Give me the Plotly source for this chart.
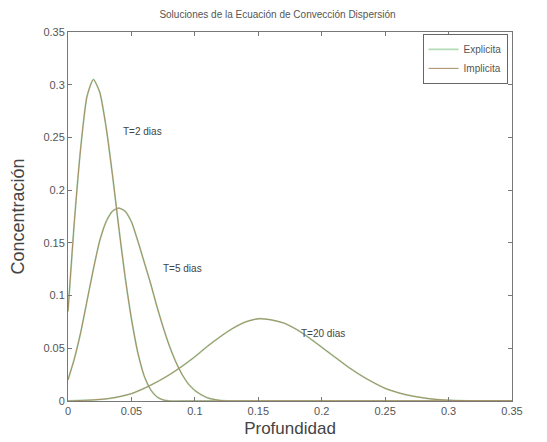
import plotly.graph_objects as go

# ---- data ----
x_t2 = [0.0, 0.005, 0.01, 0.015, 0.02, 0.025, 0.03, 0.035, 0.04, 0.045, 0.05, 0.055,
        0.06, 0.065, 0.07, 0.075, 0.08, 0.09, 0.10, 0.15, 0.20, 0.25, 0.30, 0.35]
c_t2 = [0.085, 0.17, 0.24, 0.289, 0.305, 0.293, 0.26, 0.215, 0.165, 0.118, 0.078, 0.046,
        0.024, 0.011, 0.004, 0.001, 0.0, 0.0, 0.0, 0.0, 0.0, 0.0, 0.0, 0.0]

x_t5 = [0.0, 0.005, 0.01, 0.015, 0.02, 0.025, 0.03, 0.035, 0.04, 0.045, 0.05, 0.055,
        0.06, 0.065, 0.07, 0.075, 0.08, 0.085, 0.09, 0.095, 0.10, 0.105, 0.11, 0.115,
        0.12, 0.125, 0.15, 0.20, 0.25, 0.30, 0.35]
c_t5 = [0.02, 0.04, 0.065, 0.095, 0.125, 0.152, 0.17, 0.18, 0.183, 0.18, 0.17, 0.152,
        0.132, 0.112, 0.09, 0.07, 0.052, 0.037, 0.025, 0.016, 0.010, 0.006, 0.003, 0.0015,
        0.0005, 0.0, 0.0, 0.0, 0.0, 0.0, 0.0]

x_t20 = [0.0, 0.01, 0.02, 0.03, 0.04, 0.05, 0.06, 0.07, 0.08, 0.09, 0.10, 0.11, 0.12,
         0.13, 0.14, 0.15, 0.16, 0.17, 0.18, 0.19, 0.20, 0.21, 0.22, 0.23, 0.24, 0.25,
         0.26, 0.27, 0.28, 0.29, 0.30, 0.31, 0.32, 0.33, 0.34, 0.35]
c_t20 = [0.0, 0.0005, 0.001, 0.002, 0.004, 0.007, 0.012, 0.018, 0.025, 0.033, 0.042,
         0.052, 0.061, 0.069, 0.075, 0.078, 0.077, 0.074, 0.068, 0.060, 0.051, 0.042,
         0.033, 0.025, 0.018, 0.012, 0.008, 0.005, 0.003, 0.0015, 0.0007, 0.0003, 0.0,
         0.0, 0.0, 0.0]

series_names = ["Explicita", "Implicita"]
series_colors = ["#b3dcb8", "#a58a60"]
series_widths = [1.8, 1.0]

curve_labels = ["T=2 dias", "T=5 dias", "T=20 dias"]
label_x = [0.042, 0.073, 0.182]
label_y = [0.256, 0.126, 0.064]

ticks = [0, 0.05, 0.1, 0.15, 0.2, 0.25, 0.3, 0.35]
tick_text = ["0", "0.05", "0.1", "0.15", "0.2", "0.25", "0.3", "0.35"]

fig = go.Figure()
curves = [(x_t2, c_t2), (x_t5, c_t5), (x_t20, c_t20)]
for name, color, w in zip(series_names, series_colors, series_widths):
    for i, (xs, ys) in enumerate(curves):
        fig.add_trace(go.Scatter(
            x=xs, y=ys, mode="lines", name=name, legendgroup=name,
            showlegend=(i == 0),
            line=dict(color=color, width=w, shape="spline", smoothing=0.6),
        ))

for t, lx, ly in zip(curve_labels, label_x, label_y):
    fig.add_annotation(x=lx, y=ly, text=t, showarrow=False, xanchor="left",
                       font=dict(size=10, color="#444"))

axis_common = dict(
    range=[0, 0.35], tickvals=ticks, ticktext=tick_text, ticks="inside", ticklen=4,
    tickcolor="#777", showline=True, linecolor="#777", linewidth=1, mirror="ticks",
    showgrid=False, zeroline=False, tickfont=dict(size=11, color="#555"),
    automargin=False,
)

fig.update_layout(
    width=539, height=434,
    margin=dict(l=60, r=35, t=24, b=41),
    paper_bgcolor="white", plot_bgcolor="white",
    font=dict(family="Liberation Sans, Arial, sans-serif", color="#444"),
    title=dict(text="Soluciones de la Ecuación de Convección Dispersión",
               x=0.5, xanchor="center", y=0.985, yanchor="middle",
               font=dict(size=10, color="#555")),
    xaxis=dict(**axis_common,
               title=dict(text="Profundidad", font=dict(size=17, color="#444"), standoff=5)),
    yaxis=dict(**axis_common,
               title=dict(text="Concentración", font=dict(size=18, color="#444"), standoff=16)),
    legend=dict(x=0.99, y=0.995, xanchor="right", yanchor="top",
                bgcolor="white", bordercolor="#666", borderwidth=1,
                font=dict(size=10, color="#555"), tracegroupgap=0),
    showlegend=True,
)

fig.write_html("out.html")
